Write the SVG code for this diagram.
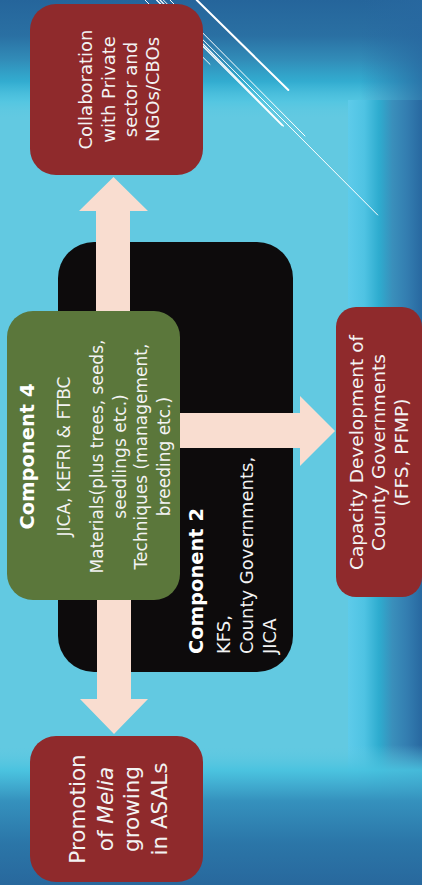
<svg xmlns="http://www.w3.org/2000/svg" width="422" height="885" viewBox="0 0 422 885">
  <style>
    .lbl { font-family: "DejaVu Sans", "Liberation Sans", sans-serif; fill: #f3f3f3; }
    .mid { text-anchor: middle; }
    .head { font-weight: bold; fill: #ffffff; }
    .red { fill: #8f2a2c; }
    .arrow { fill: #f9ddd0; }
    .streak { stroke: #ffffff; fill: none; stroke-linecap: round; }
  </style>
  <defs>
    <linearGradient id="topBand" x1="0" y1="0" x2="0" y2="1">
      <stop offset="0" stop-color="#25659b" stop-opacity="1"/>
      <stop offset="0.3" stop-color="#2a70a3" stop-opacity="1"/>
      <stop offset="0.5" stop-color="#2f89b6" stop-opacity="0.95"/>
      <stop offset="0.68" stop-color="#2aa7cd" stop-opacity="0.85"/>
      <stop offset="0.85" stop-color="#47c3e1" stop-opacity="0.5"/>
      <stop offset="1" stop-color="#62c9e1" stop-opacity="0"/>
    </linearGradient>
    <linearGradient id="bottomBand" x1="0" y1="0" x2="0" y2="1">
      <stop offset="0" stop-color="#62c9e1" stop-opacity="0"/>
      <stop offset="0.18" stop-color="#48c2df" stop-opacity="0.9"/>
      <stop offset="0.4" stop-color="#3591bd" stop-opacity="1"/>
      <stop offset="0.7" stop-color="#2b76a8" stop-opacity="1"/>
      <stop offset="1" stop-color="#28689d" stop-opacity="1"/>
    </linearGradient>
    <linearGradient id="rightStrip" x1="0" y1="0" x2="1" y2="0">
      <stop offset="0" stop-color="#5ecbea"/>
      <stop offset="0.22" stop-color="#4fc3e3"/>
      <stop offset="0.42" stop-color="#2eaccf"/>
      <stop offset="0.6" stop-color="#3a8fbb"/>
      <stop offset="0.8" stop-color="#337db0"/>
      <stop offset="1" stop-color="#2868a0"/>
    </linearGradient>
    <linearGradient id="edgeShade" x1="0" y1="0" x2="1" y2="0">
      <stop offset="0" stop-color="#2868a0" stop-opacity="0"/>
      <stop offset="1" stop-color="#2868a0" stop-opacity="0.8"/>
    </linearGradient>
  </defs>

  <!-- backdrop -->
  <rect x="0" y="0" width="422" height="885" fill="#62c9e1"/>
  <rect x="0" y="0" width="422" height="120" fill="url(#topBand)"/>
  <rect x="348" y="100" width="74" height="785" fill="url(#rightStrip)"/>
  <rect x="360" y="0" width="62" height="100" fill="url(#edgeShade)"/>
  <rect x="0" y="745" width="422" height="140" fill="url(#bottomBand)"/>

  <!-- light streaks (behind the top box) -->
  <g id="streaks">
    <line class="streak" x1="196.7" y1="0" x2="288.3" y2="90" stroke-width="2"/>
    <line class="streak" x1="170" y1="0" x2="305" y2="136" stroke-width="1"/>
    <line class="streak" x1="163.3" y1="0" x2="377.7" y2="215" stroke-width="1"/>
    <line class="streak" x1="160" y1="0" x2="283.3" y2="126" stroke-width="1.3"/>
    <line class="streak" x1="156.6" y1="0" x2="281.7" y2="125" stroke-width="1.3"/>
    <line class="streak" x1="145" y1="0" x2="210" y2="64.3" stroke-width="1"/>
  </g>

  <!-- Component 2 panel -->
  <g id="component2">
    <rect x="58" y="242" width="235" height="430" rx="36" fill="#0d0b0c"/>
    <text class="lbl head" font-size="19.5" transform="rotate(-90)" x="-654" y="203">Component 2</text>
    <text class="lbl" font-size="18" transform="rotate(-90)" x="-654" y="229.5">KFS,</text>
    <text class="lbl" font-size="18" transform="rotate(-90)" x="-654" y="253">County Governments,</text>
    <text class="lbl" font-size="18" transform="rotate(-90)" x="-654" y="275.5">JICA</text>
  </g>

  <!-- connectors -->
  <g id="connectors">
    <!-- up to collaboration -->
    <path class="arrow" d="M96,320 L96,211 L79,211 L113.5,177 L148,211 L130,211 L130,320 Z"/>
    <!-- right to capacity development -->
    <path class="arrow" d="M175,413 L300,413 L300,396 L335,431 L300,466 L300,448 L175,448 Z"/>
    <!-- down to promotion -->
    <path class="arrow" d="M97,590 L97,699 L80,699 L114,734 L148,699 L131,699 L131,590 Z"/>
  </g>

  <!-- Component 4 panel -->
  <g id="component4">
    <rect x="7" y="311" width="173" height="289" rx="26" fill="#5b773b"/>
    <g transform="rotate(-90)">
      <text class="lbl mid head" font-size="19.5" x="-456.5" y="33.5">Component 4</text>
      <text class="lbl mid" font-size="17" x="-456.5" y="70">JICA, KEFRI &amp; FTBC</text>
      <text class="lbl mid" font-size="17" x="-456.5" y="103">Materials(plus trees, seeds,</text>
      <text class="lbl mid" font-size="17" x="-456.5" y="125.5">seedlings etc.)</text>
      <text class="lbl mid" font-size="17" x="-456.5" y="147">Techniques (management,</text>
      <text class="lbl mid" font-size="17" x="-456.5" y="170">breeding etc.)</text>
    </g>
  </g>

  <!-- outcome: collaboration -->
  <g id="collaboration">
    <rect class="red" x="30" y="4" width="173" height="171" rx="26"/>
    <g transform="rotate(-90)">
      <text class="lbl mid" font-size="18" x="-89.5" y="92">Collaboration</text>
      <text class="lbl mid" font-size="18" x="-89.5" y="114.5">with Private</text>
      <text class="lbl mid" font-size="18" x="-89.5" y="136.5">sector and</text>
      <text class="lbl mid" font-size="18" x="-89.5" y="158.5">NGOs/CBOs</text>
    </g>
  </g>

  <!-- outcome: capacity development -->
  <g id="capacity">
    <rect class="red" x="336" y="307" width="86" height="290" rx="20"/>
    <g transform="rotate(-90)">
      <text class="lbl mid" font-size="18.5" x="-452.5" y="362.5">Capacity Development of</text>
      <text class="lbl mid" font-size="18.5" x="-452.5" y="385">County Governments</text>
      <text class="lbl mid" font-size="18.5" x="-452.5" y="407.5">(FFS, PFMP)</text>
    </g>
  </g>

  <!-- outcome: promotion -->
  <g id="promotion">
    <rect class="red" x="30" y="736" width="173" height="146" rx="26"/>
    <g transform="rotate(-90)">
      <text class="lbl mid" font-size="21.5" x="-809" y="85">Promotion</text>
      <text class="lbl mid" font-size="21.5" x="-809" y="113">of <tspan font-style="italic">Melia</tspan></text>
      <text class="lbl mid" font-size="21.5" x="-809" y="139">growing</text>
      <text class="lbl mid" font-size="21.5" x="-809" y="166.5">in ASALs</text>
    </g>
  </g>
</svg>
